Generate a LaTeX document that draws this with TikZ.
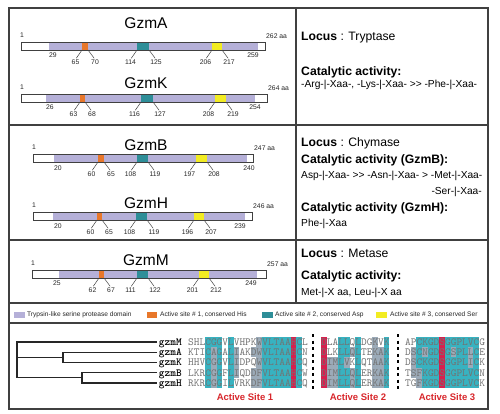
\documentclass[tikz,border=0pt]{standalone}
\usepackage{fontspec}
\setmainfont{Liberation Sans}
\definecolor{lav}{HTML}{B5B0D8}
\definecolor{org}{HTML}{E8772A}
\definecolor{tealc}{HTML}{2E8E98}
\definecolor{yel}{HTML}{F2EC22}
\definecolor{frame}{HTML}{404040}
\definecolor{aT}{HTML}{38B2C0}
\definecolor{aG}{HTML}{9BAAB8}
\definecolor{aR}{HTML}{D6204E}
\definecolor{actred}{HTML}{D8262B}
\tikzset{
  frameline/.style={draw=frame, line width=1.2pt},
  barline/.style={draw=black!75, line width=0.8pt},
  tickline/.style={draw=black!80, line width=0.45pt, shorten >=1.5pt},
  num/.style={inner sep=0pt, font=\fontsize{6.8}{6.8}\selectfont, text=black!85},
  ptitle/.style={inner sep=0pt, font=\fontsize{15.5}{15.5}\selectfont},
  head/.style={inner sep=0pt, anchor=base west, font=\fontsize{12.2}{12.2}\selectfont},
  body/.style={inner sep=0pt, anchor=base west, font=\fontsize{10.2}{10.2}\selectfont},
  legtext/.style={inner sep=0pt, anchor=west, font=\fontsize{6.6}{6.6}\selectfont, text=black!85},
  legbox/.style={minimum width=11pt, minimum height=6pt, inner sep=0pt},
  seq/.style={inner sep=0pt, anchor=base west, font=\ttfamily\fontsize{10.86}{10.86}\selectfont, text=black!55},
  seqname/.style={inner sep=0pt, anchor=base east, font=\ttfamily\bfseries\fontsize{10.86}{10.86}\selectfont},
  treeline/.style={draw=black!85, line width=1.1pt},
  sepline/.style={draw=black, line width=1.1pt, dash pattern=on 3pt off 3.5pt},
  sitelab/.style={inner sep=0pt, font=\bfseries\fontsize{9.5}{9.5}\selectfont, text=actred},
}
% bar background: ytop, x0, x1, d0, d1
\newcommand\pbar[5]{%
  \fill[white] (#2,#1) rectangle (#3,#1+8);
  \fill[lav] (#4,#1) rectangle (#5,#1+8);
}
% site: color, ytop, xa, xb, labA, labB, id
\newcommand\psite[7]{%
  \fill[#1] (#3,#2) rectangle (#4,#2+8);
  \node[num] (#7a) at (#3-6.5,#2+20) {#5};
  \node[num] (#7b) at (#4+7,#2+20) {#6};
  \draw[tickline] (#3,#2+8) -- (#7a.north);
  \draw[tickline] (#4,#2+8) -- (#7b.north);
}
% outline and end labels: ytop, x0, x1, length, id
\newcommand\pbox[5]{%
  \draw[barline] (#2,#1) rectangle (#3,#1+8);
  \node[num] (#5one) at (#2+1,#1-7) {1};
  \node[num, anchor=west] (#5len) at (#3+1,#1-6) {#4 aa};
}
% highlight cell: x0, row, col, colour
\newcommand\hc[4]{\fill[#4] ({#1+(#3-1)*5.7},{336.875+(#2-1)*10.25}) rectangle ++(5.7,10.25);}
\newcommand\dblgt{>{}>}
\begin{document}
\begin{tikzpicture}[x=1pt,y=-1pt]
\useasboundingbox (0,0) rectangle (500,414);
\fill[white] (0,0) rectangle (500,414);

% ---------- GzmA ----------
\node[ptitle] (tA) at (146,23) {GzmA};
\pbar{42}{21}{265}{49}{258}
\psite{org}{42}{82}{88}{65}{70}{Ao}
\psite{tealc}{42}{137}{149}{114}{125}{At}
\psite{yel}{42}{212}{222}{206}{217}{Ay}
\node[num] (Ad0) at (53,55) {29};
\node[num] (Ad1) at (253,55) {259};
\pbox{42}{21}{265}{262}{A}

% ---------- GzmK ----------
\node[ptitle] (tK) at (146,83) {GzmK};
\pbar{94}{21}{267}{46}{255}
\psite{org}{94}{80}{85}{63}{68}{Ko}
\psite{tealc}{94}{141}{153}{116}{127}{Kt}
\psite{yel}{94}{215}{226}{208}{219}{Ky}
\node[num] (Kd0) at (50,107) {26};
\node[num] (Kd1) at (255,107) {254};
\pbox{94}{21}{267}{264}{K}

% ---------- GzmB ----------
\node[ptitle] (tB) at (146,145) {GzmB};
\pbar{154}{33}{253}{54}{247}
\psite{org}{154}{98}{104}{60}{65}{Bo}
\psite{tealc}{154}{137}{148}{108}{119}{Bt}
\psite{yel}{154}{196}{207}{197}{208}{By}
\node[num] (Bd0) at (58,168) {20};
\node[num] (Bd1) at (249,168) {240};
\pbox{154}{33}{253}{247}{B}

% ---------- GzmH ----------
\node[ptitle] (tH) at (146,203) {GzmH};
\pbar{212}{33}{252}{53}{245}
\psite{org}{212}{97}{102}{60}{65}{Ho}
\psite{tealc}{212}{136}{147}{108}{119}{Ht}
\psite{yel}{212}{194}{204}{196}{207}{Hy}
\node[num] (Hd0) at (58,226) {20};
\node[num] (Hd1) at (240,226) {239};
\pbox{212}{33}{252}{246}{H}

% ---------- GzmM ----------
\node[ptitle] (tM) at (146,260) {GzmM};
\pbar{270}{32}{266}{59}{257}
\psite{org}{270}{99}{104}{62}{67}{Mo}
\psite{tealc}{270}{137}{148}{111}{122}{Mt}
\psite{yel}{270}{199}{209}{201}{212}{My}
\node[num] (Md0) at (57,283) {25};
\node[num] (Md1) at (251,283) {249};
\pbox{270}{32}{266}{257}{M}

% ---------- right panel text ----------
\node[head] (l1) at (301,41) {\bfseries Locus\mdseries{} : Tryptase};
\node[head] (c1) at (301,75.5) {\bfseries Catalytic activity:};
\node[body] (a1) at (301,88) {-Arg-|-Xaa-, -Lys-|-Xaa- \dblgt{} -Phe-|-Xaa-};

\node[head] (l2) at (301,146.3) {\bfseries Locus\mdseries{} : Chymase};
\node[head] (c2) at (301,163.4) {\bfseries Catalytic activity (GzmB):};
\node[body] (a2) at (301,178.7) {Asp-|-Xaa- \dblgt{} -Asn-|-Xaa- > -Met-|-Xaa-};
\node[body, anchor=base east] (a2b) at (482,194.7) {-Ser-|-Xaa-};
\node[head] (c3) at (301,211.4) {\bfseries Catalytic activity (GzmH):};
\node[body] (a3) at (301,226.7) {Phe-|-Xaa};

\node[head] (l3) at (301,257) {\bfseries Locus\mdseries{} : Metase};
\node[head] (c4) at (301,279.4) {\bfseries Catalytic activity:};
\node[body] (a4) at (301,295.7) {Met-|-X aa, Leu-|-X aa};

% ---------- legend ----------
\node[legbox, fill=lav, anchor=west] (g1) at (14,315) {};
\node[legtext] (g1t) at (27,315) {Trypsin-like serine protease domain};
\node[legbox, fill=org, anchor=west, minimum width=10pt] (g2) at (147,315) {};
\node[legtext] (g2t) at (160,315) {Active site \# 1, conserved His};
\node[legbox, fill=tealc, anchor=west] (g3) at (262,315) {};
\node[legtext] (g3t) at (275,315) {Active site \# 2, conserved Asp};
\node[legbox, fill=yel, anchor=west] (g4) at (376,315) {};
\node[legtext] (g4t) at (390,315) {Active site \# 3, conserved Ser};

% ---------- alignment highlights ----------
% site 1
\foreach \c in {4,6,8,14,15,16,17,18,20} {\foreach \r in {1,...,5} {\hc{188}{\r}{\c}{aT}}}
\hc{188}{1}{5}{aT}
\foreach \r in {2,...,5} {\hc{188}{\r}{5}{aG}}
\foreach \r in {2,3,4} {\hc{188}{\r}{9}{aG}}
\foreach \r in {2,4,5} {\hc{188}{\r}{12}{aG}}
\foreach \r in {1,...,5} {\hc{188}{\r}{13}{aG}}
\foreach \r in {1,...,5} {\hc{188}{\r}{19}{aR}}
% site 2
\foreach \r in {1,...,5} {\hc{321}{\r}{1}{aR}}
\foreach \c in {4,7,12} {\foreach \r in {1,...,5} {\hc{321}{\r}{\c}{aT}}}
\foreach \r in {1,2,4,5} {\hc{321}{\r}{5}{aT}}
\hc{321}{3}{5}{aG}
\foreach \c in {2,3} {\foreach \r in {3,4,5} {\hc{321}{\r}{\c}{aG}}}
\foreach \r in {2,4,5} {\hc{321}{\r}{6}{aG}}
\foreach \r in {1,...,5} {\hc{321}{\r}{10}{aG}}
\foreach \r in {2,...,5} {\hc{321}{\r}{11}{aG}}
% site 3
\foreach \r in {1,...,5} {\hc{405}{\r}{7}{aR}}
\foreach \c in {5,6,8,10,11,13} {\foreach \r in {1,...,5} {\hc{405}{\r}{\c}{aT}}}
\foreach \r in {1,2,3} {\hc{405}{\r}{3}{aT}}
\foreach \r in {4,5} {\hc{405}{\r}{3}{aG}}
\foreach \r in {1,3,4,5} {\hc{405}{\r}{4}{aT}}
\hc{405}{2}{4}{aG}
\foreach \r in {1,3,4,5} {\hc{405}{\r}{9}{aT}}
\hc{405}{2}{9}{aG}
\foreach \r in {1,4,5} {\hc{405}{\r}{12}{aT}}
\foreach \r in {2,3} {\hc{405}{\r}{12}{aG}}
\foreach \r in {2,3,4} {\hc{405}{\r}{2}{aG}}

% ---------- sequences ----------
\node[seqname] (nM) at (182,345.3) {gzmM};
\node[seqname] (nA) at (182,355.55) {gzmA};
\node[seqname] (nK) at (182,365.8) {gzmK};
\node[seqname] (nB) at (182,376.05) {gzmB};
\node[seqname] (nH) at (182,386.3) {gzmH};

\node[seq] (s1M) at (188,345.3) {SHLCGGVLVHPKWVLTAAHCL};
\node[seq] (s1A) at (188,355.55) {KTICAGALIAKDWVLTAAHCN};
\node[seq] (s1K) at (188,365.8) {HHVCGGVLIDPQWVLTAAHCQ};
\node[seq] (s1B) at (188,376.05) {LKRCGGFLIQDDFVLTAAHCW};
\node[seq] (s1H) at (188,386.3) {RKRCGGILVRKDFVLTAAHCQ};

\node[seq] (s2M) at (321,345.3) {DLALLQLDGKVK};
\node[seq] (s2A) at (321,355.55) {DLKLLQLTEKAK};
\node[seq] (s2K) at (321,365.8) {DIMLVKLQTAAK};
\node[seq] (s2B) at (321,376.05) {DIMLLQLERKAK};
\node[seq] (s2H) at (321,386.3) {DIMLLQLERKAK};

\node[seq] (s3M) at (405,345.3) {APCKGDSGGPLVCG};
\node[seq] (s3A) at (405,355.55) {DSCNGDSGSPLLCE};
\node[seq] (s3K) at (405,365.8) {DSCKGDSGGPLICK};
\node[seq] (s3B) at (405,376.05) {TSFKGDSGGPLVCN};
\node[seq] (s3H) at (405,386.3) {TGFKGDSGGPLVCK};

\coordinate (sepa1) at (313,334);
\coordinate (sepa2) at (313,389);
\coordinate (sepb1) at (398,334);
\coordinate (sepb2) at (398,389);
\draw[sepline] (sepa1) -- (sepa2);
\draw[sepline] (sepb1) -- (sepb2);

\node[sitelab] (as1) at (245,397) {Active Site 1};
\node[sitelab] (as2) at (358,397) {Active Site 2};
\node[sitelab] (as3) at (447,397) {Active Site 3};

% ---------- tree ----------
\coordinate (eM) at (157,342);
\coordinate (eA) at (157,352.25);
\coordinate (eK) at (157,362.5);
\coordinate (eB) at (157,372.75);
\coordinate (eH) at (157,383);
\coordinate (root1) at (17,342);
\coordinate (root2) at (17,377.875);
\coordinate (bh) at (82,377.875);
\coordinate (ak) at (63,357.375);
\coordinate (rootak) at (17,357.375);
\draw[treeline] (eM) -- (root1) -- (root2) -- (bh);
\draw[treeline] (eB) -| (bh) |- (eH);
\draw[treeline] (eA) -| (ak) |- (eK);
\draw[treeline] (rootak) -- (ak);

% ---------- frame ----------
\draw[frameline] (9,8) rectangle (488,409);
\draw[frameline] (9,125) -- (488,125);
\draw[frameline] (9,240) -- (488,240);
\draw[frameline] (9,303) -- (488,303);
\draw[frameline] (9,323) -- (488,323);
\draw[frameline] (296,8) -- (296,303);
\end{tikzpicture}
\end{document}
